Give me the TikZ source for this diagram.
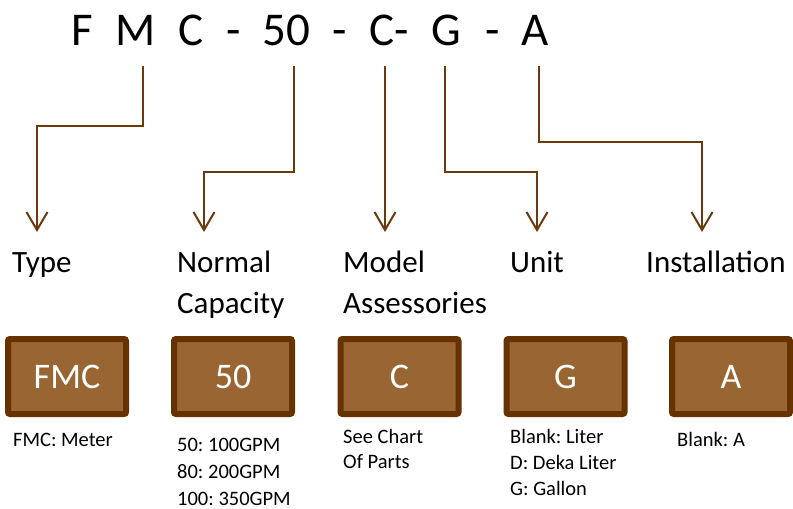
\documentclass[tikz,border=0pt]{standalone}
\usepackage{fontspec}
\setmainfont{Carlito}
\frenchspacing
\usetikzlibrary{arrows.meta}
\definecolor{linebrown}{HTML}{6B3A0C}
\definecolor{boxfill}{HTML}{996633}
\definecolor{boxedge}{HTML}{663300}
\begin{document}
\begin{tikzpicture}[x=1pt,y=-1pt,
  titletok/.style={font=\fontsize{47}{56}\selectfont, anchor=base, inner sep=0pt},
  head/.style={font=\fontsize{31}{41}\selectfont, anchor=base west, align=left, inner sep=0pt},
  codebox/.style={draw=boxedge, line width=6pt, fill=boxfill, rounded corners=2pt,
    minimum width=118pt, minimum height=75pt, inner sep=0pt, text=white,
    font=\fontsize{36}{40}\selectfont, text height=23pt, text depth=0pt},
  note/.style={font=\fontsize{20.5}{26}\selectfont, anchor=base west, align=left, inner sep=0pt},
  link/.style={draw=linebrown, line width=2pt, -{Straight Barb[length=18pt,width=21pt]}}]
\useasboundingbox (0,0) rectangle (793,509);
% title tokens
\node[titletok] (tF) at (82.5,45) {F};
\node[titletok] (tM) at (135.5,45) {M};
\node[titletok] (tC) at (191.5,45) {C};
\node[titletok] (td1) at (233.5,45) {-};
\node[titletok] (t50) at (286.5,45) {50};
\node[titletok] (td2) at (340,45) {-};
\node[titletok] (tC2) at (389,45) {C-};
\node[titletok] (tG) at (446.5,45) {G};
\node[titletok] (td3) at (492.5,45) {-};
\node[titletok] (tA) at (535,45) {A};
% headings (base anchor = baseline of last line)
\node[head] (hType) at (12,272) {Type};
\node[head] (hCap) at (177,313) {Normal\\Capacity};
\node[head] (hMod) at (343,313) {Model\\Assessories};
\node[head] (hUnit) at (510,272) {Unit};
\node[head] (hInst) at (646,272) {Installation};
% boxes
\node[codebox] (b1) at (67,376.5) {FMC};
\node[codebox] (b2) at (233,376.5) {50};
\node[codebox] (b3) at (399.5,376.5) {C};
\node[codebox] (b4) at (565.5,376.5) {G};
\node[codebox] (b5) at (731,376.5) {A};
% notes
\node[note] (n1) at (13,446) {FMC: Meter};
\node[note, font=\fontsize{20.5}{27}\selectfont] (n2) at (177,505) {50: 100GPM\\80: 200GPM\\100: 350GPM};
\node[note, font=\fontsize{20.5}{25}\selectfont] (n3) at (343,468) {See Chart\\Of Parts};
\node[note] (n4) at (510,495) {Blank: Liter\\D: Deka Liter\\G: Gallon};
\node[note] (n5) at (677,446) {Blank: A};
% connectors
\coordinate (s1) at (143,66); \coordinate (e1) at (37,232);
\coordinate (s2) at (294,66); \coordinate (e2) at (204,232);
\coordinate (s3) at (385,66); \coordinate (e3) at (385,232);
\coordinate (s4) at (445,66); \coordinate (e4) at (537,232);
\coordinate (s5) at (539,66); \coordinate (e5) at (702,232);
\draw[link] (s1) -- ++(0,60) -| (e1);
\draw[link] (s2) -- ++(0,106) -| (e2);
\draw[link] (s3) -- (e3);
\draw[link] (s4) -- ++(0,106) -| (e4);
\draw[link] (s5) -- ++(0,76) -| (e5);
\end{tikzpicture}
\end{document}
